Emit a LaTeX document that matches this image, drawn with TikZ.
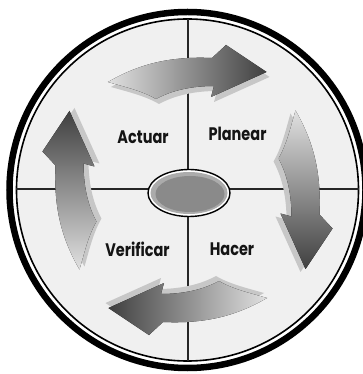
\documentclass[tikz,border=0pt]{standalone}
\usepackage{fontspec}
\setmainfont{Poppins}
\usetikzlibrary{shapes.geometric,calc}
\newcommand\pdcaarrow{(-79.5,108) .. controls (-50,125) and (-20,134) .. (24.5,132) -- (38.5,145) -- (79,118) -- (23.5,93) -- (26.5,104) .. controls (5,104) and (-15,100) .. (-31.5,91) .. controls (-45,99) and (-62,103) .. cycle}
\begin{document}
\begin{tikzpicture}[x=1pt,y=1pt,
  lbl/.style={font=\fontsize{14.5}{16}\selectfont\bfseries, text=black!92, inner sep=0pt, yscale=1.25, transform shape},
  extr/.style={fill=black!22},
  axis/.style={line width=1.3pt, black!85},
]
\useasboundingbox (-187.5,-184) rectangle (175.5,190);
\fill[white] (-187.5,-184) rectangle (175.5,190);
\coordinate (C) at (0,0);
\fill[black!6] (C) circle (171);
\draw[line width=1.6pt] (C) circle (171);
\draw[line width=6.5pt] (C) circle (178);
\coordinate (ntop) at (0.5,171);
\coordinate (nbot) at (0.5,-171);
\coordinate (nleft) at (-171,1);
\coordinate (nright) at (171,1);
\draw[axis] (ntop) -- (nbot);
\draw[axis] (nleft) -- (nright);
% arrows
\begin{scope}
\fill[extr, shift={(3,-5)}] \pdcaarrow;
\fill[left color=black!12, middle color=black!38, right color=black!75] \pdcaarrow;
\end{scope}
\begin{scope}[rotate=-90]
\fill[extr, shift={(3,-5)}] \pdcaarrow;
\fill[top color=black!12, middle color=black!38, bottom color=black!75] \pdcaarrow;
\end{scope}
\begin{scope}[rotate=180]
\fill[extr, shift={(3,-5)}] \pdcaarrow;
\fill[right color=black!12, middle color=black!38, left color=black!75] \pdcaarrow;
\end{scope}
\begin{scope}[rotate=90]
\fill[extr, shift={(3,-5)}] \pdcaarrow;
\fill[bottom color=black!12, middle color=black!38, top color=black!75] \pdcaarrow;
\end{scope}
% hub
\node[ellipse, draw, line width=1.4pt, fill=white, minimum width=82pt, minimum height=47pt, inner sep=0pt] (hub) at (1.5,-3) {};
\fill[black!33] (hub.center) ellipse (38.5 and 21);
\fill[black!46] ($(hub.center)+(1,-1)$) ellipse (34.5 and 18);
% labels
\node[lbl] (actuar) at (-44.5,53) {Actuar};
\node[lbl] (planear) at (50,56) {Planear};
\node[lbl] (verificar) at (-50,-59) {Verificar};
\node[lbl] (hacer) at (44.5,-59) {Hacer};
\end{tikzpicture}
\end{document}
